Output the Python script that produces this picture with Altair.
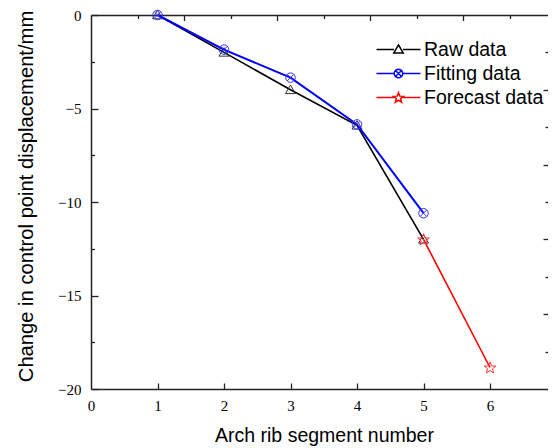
import math
import altair as alt
import pandas as pd

# ---------------- data ----------------
segments_raw = [1, 2, 3, 4, 5]
raw_values = [0.0, -2.0, -4.0, -5.9, -12.0]
segments_fit = [1, 2, 3, 4, 5]
fit_values = [0.0, -1.85, -3.35, -5.85, -10.6]
segments_forecast = [5, 6]
forecast_values = [-12.0, -18.85]
series_names = ["Raw data", "Fitting data", "Forecast data"]
series_colors = ["#000000", "#0000FF", "#FF0000"]

x_tick_values = [0, 1, 2, 3, 4, 5, 6]
x_inner_ticks = [1, 2, 3, 4, 5, 6]
y_tick_values = [0, -5, -10, -15, -20]
y_inner_ticks = [0, -2.5, -5, -7.5, -10, -12.5, -15, -17.5, -20]
top_ticks = [0.7, 1.4, 2.1, 2.8, 3.5, 4.2, 4.9, 5.6, 6.3]
right_ticks = [-2, -4, -6, -8, -10, -12, -14, -16, -18]

raw_df = pd.DataFrame({"segment": segments_raw, "value": raw_values, "series": series_names[0]})
fit_df = pd.DataFrame({"segment": segments_fit, "value": fit_values, "series": series_names[1]})
fc_df = pd.DataFrame({"segment": segments_forecast, "value": forecast_values, "series": series_names[2]})
all_df = pd.concat([raw_df, fit_df, fc_df], ignore_index=True)

# ---------------- marker paths (styling) ----------------
def f(v):
    return f"{v:.3f}"

def tri(s):
    pts = [(0, -0.95 * s), (s, 0.75 * s), (-s, 0.75 * s)]
    return "M" + "L".join(f"{f(x)},{f(y)}" for x, y in pts) + "Z"

def circ_x(s):
    n = 20
    pts = [(s * math.cos(2 * math.pi * i / n), s * math.sin(2 * math.pi * i / n)) for i in range(n)]
    p = "M" + "L".join(f"{f(x)},{f(y)}" for x, y in pts) + "Z"
    d = 0.707 * s
    p += f"M{f(-d)},{f(-d)}L{f(d)},{f(d)}M{f(-d)},{f(d)}L{f(d)},{f(-d)}"
    return p

def star(s):
    pts = []
    for i in range(10):
        r = s if i % 2 == 0 else 0.42 * s
        a = -math.pi / 2 + i * math.pi / 5
        pts.append((r * math.cos(a), r * math.sin(a) + 0.08 * s))
    return "M" + "L".join(f"{f(x)},{f(y)}" for x, y in pts) + "Z"

# legend symbol: nominal box 25 px (unit = 12.5 px); line drawn 44 px wide
LEG_HALF = 1.76
def legend_path(marker, g):
    return f"M{f(-LEG_HALF)},0L{f(-g)},0M{f(g)},0L{f(LEG_HALF)},0" + marker

TRI = tri(1)
CX = circ_x(1)
STAR = star(1)
legend_paths = [
    legend_path(tri(0.38), 0.36),
    legend_path(circ_x(0.34), 0.34),
    legend_path(star(0.42), 0.38),
]

# plot area: x 0 at 91px, 66.5 px per unit; visible up to the page edge
W, H = 457, 374
X_MAX = 457 / 66.5
x_scale = alt.Scale(domain=[0, X_MAX], nice=False, zero=False)
y_scale = alt.Scale(domain=[-20, 0], nice=False, zero=False)

AX = "#222222"
LABEL_FONT = "Liberation Serif"
TITLE_FONT = "Liberation Sans"

def xy(xaxis=None, yaxis=None):
    return dict(
        x=alt.X("segment:Q", scale=x_scale, axis=xaxis),
        y=alt.Y("value:Q", scale=y_scale, axis=yaxis),
    )

main_x_axis = alt.Axis(
    title="Arch rib segment number", values=x_tick_values, ticks=False, tickSize=0,
    labelPadding=9, labelFont=LABEL_FONT, labelFontSize=15, labelColor="black",
    labelFlush=False, labelOverlap=False, format="d",
    titleFont=TITLE_FONT, titleFontSize=19.5, titleFontWeight="normal", titleColor="black",
    titlePadding=13, titleX=233, titleAlign="center",
    domainColor=AX, domainWidth=1.5, grid=False,
)
main_y_axis = alt.Axis(
    title="Change in control point displacement/mm", values=y_tick_values, ticks=False, tickSize=0,
    labelPadding=10, labelFont=LABEL_FONT, labelFontSize=15, labelColor="black",
    labelFlush=False, labelOverlap=False, format="d",
    titleFont=TITLE_FONT, titleFontSize=20.2, titleFontWeight="normal", titleColor="black",
    titlePadding=21, titleY=181, titleAlign="center",
    domainColor=AX, domainWidth=1.5, grid=False,
)
bottom_in_axis = alt.Axis(
    orient="top", offset=-H, values=x_inner_ticks, labels=False, domain=False, grid=False,
    ticks=True, tickSize=6, tickColor=AX, tickWidth=1.3, title=None,
)
left_in_axis = alt.Axis(
    orient="right", offset=-W, values=y_inner_ticks, labels=False, domain=False, grid=False,
    ticks=True, tickSize={"condition": {"test": "datum.value % 5 === 0", "value": 7}, "value": 3.5},
    tickColor=AX, tickWidth=1.3, title=None,
)
top_axis = alt.Axis(
    orient="bottom", offset=-H, values=top_ticks, labels=False, domain=True, domainColor=AX,
    domainWidth=1.5, grid=False, ticks=True,
    tickSize={"condition": {"test": "round(datum.value / 0.7) % 2 === 0", "value": 5.5}, "value": 3.5},
    tickColor=AX, tickWidth=1.3, title=None,
)
right_axis = alt.Axis(
    orient="left", offset=-W, values=right_ticks, labels=False, domain=False, grid=False,
    ticks=True, tickSize={"condition": {"test": "datum.value % 4 === 0", "value": 5}, "value": 3},
    tickColor=AX, tickWidth=1.3, title=None,
)

def series_layers(df, color, line_w, shape, size, point_color):
    line = alt.Chart(df).mark_line(color=color, strokeWidth=line_w).encode(**xy())
    pts = alt.Chart(df).mark_point(
        shape=shape, size=size, filled=False, color=point_color, strokeWidth=1, opacity=1
    ).encode(**xy())
    return [line, pts]

layers = []
layers += series_layers(raw_df, series_colors[0], 1.6, TRI, 100, "#333333")
layers += series_layers(fit_df, series_colors[1], 2.0, CX, 90, "#3333FF")
layers += series_layers(fc_df, series_colors[2], 1.6, STAR, 150, "#FF3333")

axis_main = alt.Chart(all_df).mark_point(opacity=0).encode(**xy(main_x_axis, main_y_axis))
axis_in = alt.Chart(all_df).mark_point(opacity=0).encode(**xy(bottom_in_axis, left_in_axis))
axis_out = alt.Chart(all_df).mark_point(opacity=0).encode(**xy(top_axis, right_axis))

leg = alt.Legend(
    orient="none", legendX=294, legendY=21, title=None,
    labelFont=TITLE_FONT, labelFontSize=19.5, labelColor="black", labelLimit=400,
    symbolSize=625, symbolStrokeWidth=1.5, symbolOpacity=1,
    rowPadding=1, labelOffset=12, padding=0,
)
legend_layer = alt.Chart(all_df).mark_point(opacity=0, filled=False, size=625).encode(
    **xy(),
    color=alt.Color("series:N", scale=alt.Scale(domain=series_names, range=series_colors), legend=leg),
    shape=alt.Shape("series:N", scale=alt.Scale(domain=series_names, range=legend_paths), legend=leg),
)

chart = (
    alt.layer(*layers, axis_main, axis_in, axis_out, legend_layer)
    .resolve_axis(x="independent", y="independent")
    .properties(
        width=W, height=H,
        autosize=alt.AutoSizeParams(type="none"),
        padding={"left": 83, "top": 7, "right": 0, "bottom": 60},
        background="white",
    )
    .configure_view(stroke=None)
)

chart.save("out.html", embed_options={"renderer": "svg", "actions": False})
